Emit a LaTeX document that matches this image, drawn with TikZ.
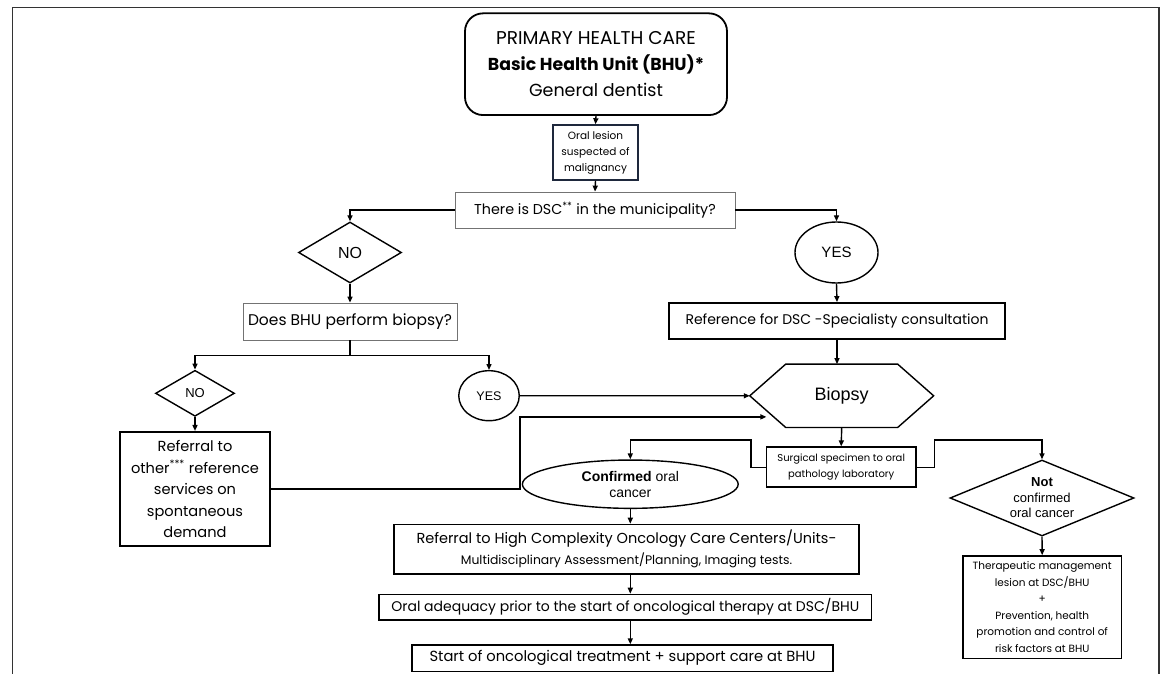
\documentclass[tikz,border=0pt]{standalone}
\usepackage{fontspec}
\setmainfont{Poppins}
\newfontfamily\arialf{Liberation Sans}
\usetikzlibrary{shapes.geometric,arrows.meta,calc}
\newcommand\fsz[2]{\fontsize{#1}{#2}\selectfont}
\definecolor{navy}{RGB}{30,40,60}
\begin{document}
\begin{tikzpicture}[x=1pt,y=-1pt,
 conn/.style={line width=1.4pt,-{Triangle[length=6pt,width=5pt]}},
 box/.style={rectangle,inner sep=0pt,align=center},
 thinbox/.style={box,draw=black!55,line width=0.8pt},
 thickbox/.style={box,draw=black,line width=1.8pt},
 medbox/.style={box,draw=black,line width=1.3pt},
 shp/.style={draw=black,line width=1.4pt,inner sep=0pt,align=center},
]
\useasboundingbox (0,0) rectangle (1163,674);
\draw[line width=1.2pt,black!80] (12.6,690) -- (12.6,7.3) -- (1159,7.3) -- (1159,690);

\node[thickbox,rounded corners=18pt,minimum width=262pt,minimum height=101.7pt,font=\fsz{17.5}{26}] (top) at (596,64.2)
 {\fsz{18.5}{26}PRIMARY HEALTH CARE\\\fsz{17.3}{26}\textbf{Basic Health Unit (BHU)*}\\\fsz{17.5}{26}General dentist};
\node[box,draw=navy,line width=1.5pt,minimum width=85pt,minimum height=55pt,font=\fsz{10.5}{16}] (les) at (595.5,152.5)
 {Oral lesion\\suspected of\\malignancy};
\node[thinbox,minimum width=280pt,minimum height=36pt,font=\fsz{14.3}{18}] (dsc) at (595,210)
 {There is DSC\textsuperscript{**} in the municipality?};
\node[shp,diamond,aspect=1.69,minimum width=103pt,minimum height=61pt,font=\arialf\fsz{16}{18}] (no1) at (350,252.5)
 {NO};
\node[shp,ellipse,minimum width=83pt,minimum height=61pt,font=\arialf\fsz{15}{18}] (yes1) at (836.5,252.5)
 {YES};
\node[thinbox,minimum width=214pt,minimum height=37pt,font=\fsz{15.5}{18}] (bhu) at (350,321.5)
 {Does BHU perform biopsy?};
\node[thickbox,minimum width=335.5pt,minimum height=36pt,font=\fsz{14}{18}] (ref) at (837,321)
 {Reference for DSC -Specialisty consultation};
\node[shp,diamond,aspect=1.72,minimum width=79pt,minimum height=46pt,font=\arialf\fsz{13}{15}] (no2) at (195,393.3)
 {NO};
\node[shp,ellipse,minimum width=60.5pt,minimum height=50pt,font=\arialf\fsz{12.5}{15}] (yes2) at (489,395.7)
 {YES};
\node[thickbox,minimum width=150.6pt,minimum height=114.3pt,font=\fsz{14.6}{21.5}] (oth) at (195,489)
 {Referral to\\other\textsuperscript{***} reference\\services on\\spontaneous\\demand};
\node[box,minimum width=183.5pt,minimum height=63pt,font=\arialf\fsz{18}{20}] (bio) at (841.7,395.8)
 {Biopsy};
\draw[line width=1.4pt] (bio.west) -- ($(bio.north west)+(36,0)$) -- ($(bio.north east)+(-36,0)$)
 -- (bio.east) -- ($(bio.south east)+(-36,0)$) -- ($(bio.south west)+(36,0)$) -- cycle;
\coordinate (bioin) at (766.4,416.9);
\node[thickbox,minimum width=149.6pt,minimum height=40pt,font=\fsz{10}{15.7}] (surg) at (841.2,467.3)
 {Surgical specimen to oral\\pathology laboratory};
\node[shp,ellipse,minimum width=215.8pt,minimum height=48.3pt,font=\arialf\fsz{14}{16}] (conf) at (630.3,484.2)
 {\textbf{Confirmed} oral\\cancer};
\node[shp,diamond,aspect=2.42,minimum width=184pt,minimum height=76pt,font=\arialf\fsz{13}{15.5}] (nc) at (1042,498)
 {\textbf{Not}\\confirmed\\oral cancer};
\node[medbox,minimum width=158.3pt,minimum height=102.3pt,font=\fsz{10.5}{16.5}] (th) at (1042.2,607)
 {Therapeutic management\\lesion at DSC/BHU\\+\\Prevention, health\\promotion and control of\\risk factors at BHU};
\node[medbox,minimum width=465pt,minimum height=49.7pt,font=\fsz{14.5}{21}] (hc) at (626.5,549.2)
 {Referral to High Complexity Oncology Care Centers/Units-\\\fsz{12.4}{14}Multidisciplinary Assessment/Planning, Imaging tests.};
\node[medbox,minimum width=492.7pt,minimum height=25.7pt,font=\fsz{14}{17}] (oa) at (625.3,607.2)
 {Oral adequacy prior to the start of oncological therapy at DSC/BHU};
\node[medbox,minimum width=421pt,minimum height=26.7pt,font=\fsz{14.7}{17}] (st) at (622.5,658.3)
 {Start of oncological treatment + support care at BHU};

\draw[conn] (top.south) -- (les.north);
\draw[conn] (les.south) -- (dsc.north);
\draw[conn] (dsc.west) -| (no1.north);
\draw[conn] (dsc.east) -| (yes1.north);
\draw[conn] (no1.south) -- (bhu.north);
\draw[conn] (yes1.south) -- (ref.north);
\draw[conn] (bhu.south) -- ++(0,15) -| (no2.north);
\draw[conn] (bhu.south) -- ++(0,15) -| (yes2.north);
\draw[conn] (no2.south) -- (oth.north);
\draw[conn] (yes2.east) -- (bio.west);
\draw[conn] (oth.east) -- ++(248.6,0) |- (bioin);
\draw[conn] (ref.south) -- (ref.south |- bio.north);
\draw[conn] (bio.south) -- (surg.north);
\draw[conn] (surg.west) -- ++(-14.7,0) -- ++(0,-27.3) -| (conf.north);
\draw[conn] (surg.east) -- ++(17.5,0) -- ++(0,-27.3) -| (nc.north);
\draw[conn] (conf.south) -- (conf.south |- hc.north);
\draw[conn] (conf.south |- hc.south) -- (conf.south |- oa.north);
\draw[conn] (conf.south |- oa.south) -- (conf.south |- st.north);
\draw[conn] (nc.south) -- (th.north);
\end{tikzpicture}
\end{document}
